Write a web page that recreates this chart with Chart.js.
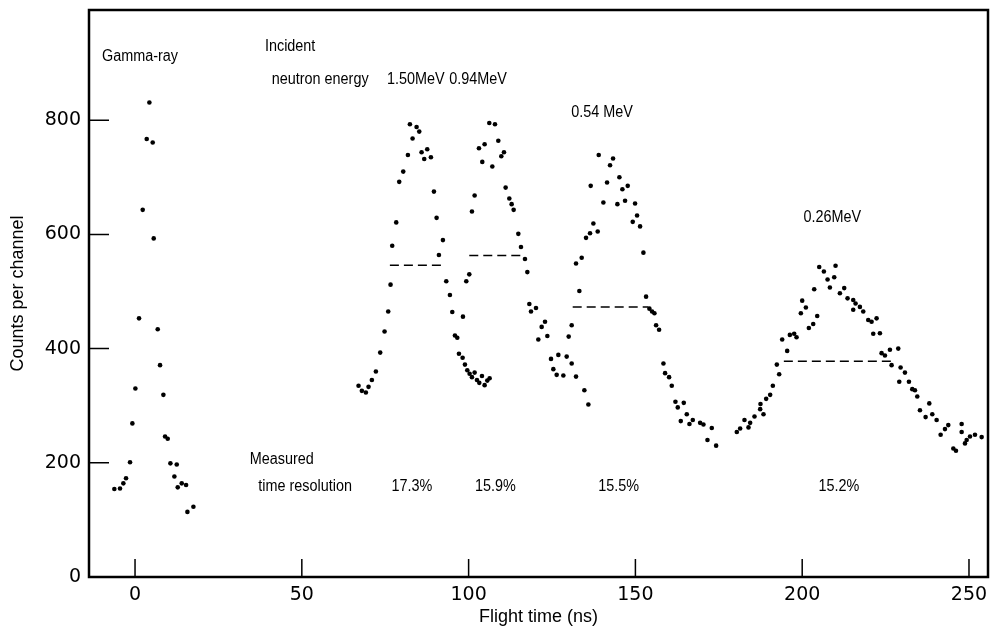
<!DOCTYPE html>
<html>
<head>
<meta charset="utf-8">
<script src="https://cdn.jsdelivr.net/npm/chart.js@4/dist/chart.umd.min.js"></script>
<style>
  body { margin: 0; background: #fff; }
  canvas { display: block; }
</style>
</head>
<body>
<canvas id="mycanvas" width="993" height="634"></canvas>
<script>
// tick labels
var xTicks = [0, 50, 100, 150, 200, 250];
var yTicks = [0, 200, 400, 600, 800];

// gamma-ray peak
var gammaTime = [-6.2, -4.5, -3.5, -2.7, -1.5, -0.8, 0.1, 1.2, 2.3, 3.5, 4.3, 5.3, 5.6, 6.8, 7.5, 8.5, 9.0, 9.8, 10.6, 11.8, 12.5, 12.8, 14.0, 15.3, 15.7, 17.5];
var gammaCounts = [154, 155, 164, 173, 201, 269, 330, 453, 643, 767, 831, 761, 593, 434, 371, 319, 246, 242, 199, 176, 197, 157, 164, 161, 114, 123];

// 1.50 MeV
var n150Time = [67.0, 68.0, 69.2, 70.0, 71.0, 72.2, 73.5, 74.8, 75.9, 76.6, 77.1, 78.3, 79.2, 80.4, 81.8, 82.4, 83.2, 84.4, 85.2, 85.9, 86.7, 87.6, 88.7, 89.6, 90.4, 91.1, 92.3, 93.3, 94.4, 95.1, 95.9, 96.6, 97.1, 98.2, 98.9, 99.6, 100.3, 101.0, 101.8, 102.5, 103.2, 104.0, 104.8, 105.6, 106.3];
var n150Counts = [335, 326, 323, 333, 345, 360, 393, 430, 465, 512, 580, 621, 692, 710, 739, 793, 768, 788, 780, 744, 732, 749, 735, 675, 629, 564, 590, 518, 494, 464, 423, 419, 391, 384, 372, 362, 356, 350, 358, 345, 340, 352, 336, 344, 348];

// 0.94 MeV
var n094Time = [98.3, 99.3, 100.2, 101.0, 101.8, 103.1, 104.1, 104.8, 106.2, 107.1, 107.9, 108.9, 109.8, 110.6, 111.1, 112.2, 112.9, 113.5, 114.9, 115.7, 116.9, 117.6, 118.2, 118.7, 120.2, 120.9, 121.9, 122.9, 123.6, 124.7, 125.4, 126.4, 126.9, 128.4, 129.4, 130.9, 132.2, 134.7, 135.9];
var n094Counts = [456, 518, 530, 640, 668, 751, 727, 758, 795, 719, 793, 764, 737, 744, 682, 663, 653, 643, 601, 578, 557, 534, 478, 465, 471, 416, 438, 447, 422, 382, 364, 354, 389, 353, 386, 374, 351, 327, 302];

// 0.54 MeV
var n054Time = [130.0, 130.9, 132.2, 133.2, 133.9, 135.2, 136.4, 136.6, 137.4, 138.7, 139.0, 140.4, 141.5, 142.4, 143.3, 144.6, 145.2, 146.1, 146.9, 147.7, 149.2, 149.9, 150.5, 151.4, 152.4, 153.2, 154.2, 155.0, 155.7, 156.2, 157.1, 158.4, 158.9, 160.1, 160.9, 162.0, 162.7, 163.6, 164.5, 165.4, 166.2, 167.2, 169.4, 170.4, 171.6, 172.9, 174.2];
var n054Counts = [421, 441, 549, 501, 559, 594, 602, 685, 619, 605, 739, 656, 691, 721, 733, 653, 700, 679, 659, 685, 622, 654, 633, 614, 568, 491, 470, 465, 462, 441, 433, 374, 357, 350, 335, 307, 297, 273, 305, 285, 268, 275, 270, 267, 240, 261, 230];

// 0.26 MeV
var n026Time = [180.4, 181.4, 182.7, 183.9, 184.4, 185.7, 187.4, 187.5, 188.4, 189.2, 190.4, 191.2, 192.4, 193.1, 194.0, 195.5, 196.3, 197.6, 198.3, 199.6, 200.0, 201.1, 202.0, 203.3, 203.6, 204.5, 205.1, 206.5, 207.6, 208.3, 209.6, 210.0, 211.3, 212.6, 213.6, 215.3, 216.0, 215.3, 217.3, 218.3, 219.8, 220.8, 221.3, 222.3, 223.3, 223.8, 224.8, 226.3, 226.8, 228.8, 229.1, 229.5, 230.8, 232.0, 233.0, 233.8, 234.5, 235.3, 237.0, 238.1, 239.0, 240.3, 241.5, 242.8, 243.8, 245.3, 246.1, 247.8, 247.8, 248.8, 249.3, 250.3, 251.8, 253.8];
var n026Counts = [254, 260, 275, 262, 270, 281, 294, 303, 285, 312, 319, 335, 372, 355, 416, 396, 424, 426, 420, 462, 484, 472, 436, 443, 504, 457, 543, 535, 521, 507, 525, 545, 497, 506, 488, 485, 479, 468, 473, 465, 450, 447, 426, 453, 427, 392, 388, 398, 371, 400, 342, 367, 358, 342, 329, 327, 316, 292, 280, 304, 285, 275, 249, 259, 266, 225, 221, 268, 254, 234, 240, 246, 249, 245];

// half-maximum lines: [start, end, level]
var halfMax = [
  [76.4, 92.4, 546],
  [100.2, 116.2, 563],
  [131.2, 153.9, 473],
  [194.5, 226.8, 378]
];

// texts on the plot: [time, counts, text]
var labels = [
  [1.5, 911, 'Gamma-ray'],
  [46.5, 929, 'Incident'],
  [55.5, 871, 'neutron energy'],
  [84.2, 871, '1.50MeV'],
  [102.8, 871, '0.94MeV'],
  [140, 813, '0.54 MeV'],
  [209, 629, '0.26MeV'],
  [44, 205, 'Measured'],
  [51, 159, 'time resolution'],
  [83, 159, '17.3%'],
  [108, 159, '15.9%'],
  [145, 159, '15.5%'],
  [211, 159, '15.2%']
];

function pts(xs, ys) {
  var out = [];
  for (var i in xs) out.push({x: xs[i], y: ys[i]});
  return out;
}

var dotStyle = {
  showLine: false,
  pointRadius: 2.3,
  pointBackgroundColor: '#000',
  pointBorderWidth: 0,
  pointBorderColor: '#000'
};

var datasets = [
  Object.assign({label: 'Gamma-ray', data: pts(gammaTime, gammaCounts)}, dotStyle),
  Object.assign({label: '1.50MeV', data: pts(n150Time, n150Counts)}, dotStyle),
  Object.assign({label: '0.94MeV', data: pts(n094Time, n094Counts)}, dotStyle),
  Object.assign({label: '0.54MeV', data: pts(n054Time, n054Counts)}, dotStyle),
  Object.assign({label: '0.26MeV', data: pts(n026Time, n026Counts)}, dotStyle)
];

halfMax.forEach(function(h) {
  datasets.push({
    label: 'FWHM',
    data: [{x: h[0], y: h[2]}, {x: h[1], y: h[2]}],
    showLine: true,
    borderColor: '#000',
    borderWidth: 1.5,
    borderDash: [9, 5],
    pointRadius: 0
  });
});

var FONT = "'Liberation Sans', 'DejaVu Sans', sans-serif";
var TICKFONT = "'DejaVu Sans', sans-serif";

var framePlugin = {
  id: 'frame',
  afterDatasetsDraw: function(chart) {
    var ctx = chart.ctx;
    var a = chart.chartArea;
    var xs = chart.scales.x, ys = chart.scales.y;
    ctx.save();
    ctx.strokeStyle = '#000';
    ctx.lineWidth = 2.5;
    ctx.strokeRect(a.left, a.top, a.right - a.left, a.bottom - a.top);
    ctx.lineWidth = 1.5;
    ctx.beginPath();
    xTicks.forEach(function(v) {
      var px = xs.getPixelForValue(v);
      ctx.moveTo(px, a.bottom);
      ctx.lineTo(px, a.bottom - 18);
    });
    yTicks.forEach(function(v) {
      var py = ys.getPixelForValue(v);
      ctx.moveTo(a.left, py);
      ctx.lineTo(a.left + 20, py);
    });
    ctx.stroke();

    // lettering is a bit narrower than the stock font
    ctx.fillStyle = '#000';
    ctx.font = '16px ' + FONT;
    ctx.textAlign = 'center';
    ctx.textBaseline = 'middle';
    labels.forEach(function(l) {
      var px = xs.getPixelForValue(l[0]);
      var py = ys.getPixelForValue(l[1]);
      ctx.save();
      ctx.translate(px, py);
      ctx.scale(0.9, 1);
      ctx.fillText(l[2], 0, 0);
      ctx.restore();
    });
    ctx.restore();
  }
};

var ctx = document.getElementById('mycanvas');

var chart = new Chart(ctx, {
  type: 'scatter',
  data: {datasets: datasets},
  plugins: [framePlugin],
  options: {
    responsive: false,
    animation: false,
    layout: {padding: {top: 10, right: 5, left: 0, bottom: 0}},
    plugins: {
      legend: {display: false},
      tooltip: {enabled: false}
    },
    scales: {
      x: {
        type: 'linear',
        min: -13.8,
        max: 255.7,
        afterBuildTicks: function(scale) {
          scale.ticks = xTicks.map(function(v) { return {value: v}; });
        },
        afterFit: function(scale) {
          scale.height = 57;
          scale.paddingLeft = 0;
          scale.paddingRight = 0;
        },
        grid: {display: false, drawTicks: false},
        border: {display: false},
        ticks: {color: '#000', padding: 7, font: {family: TICKFONT, size: 19}},
        title: {
          display: true,
          text: 'Flight time (ns)',
          color: '#000',
          font: {family: FONT, size: 18},
          padding: {top: 0, bottom: 6}
        }
      },
      y: {
        min: 0,
        max: 993,
        afterBuildTicks: function(scale) {
          scale.ticks = yTicks.map(function(v) { return {value: v}; });
        },
        afterFit: function(scale) {
          scale.width = 89;
          scale.paddingTop = 0;
          scale.paddingBottom = 0;
        },
        grid: {display: false, drawTicks: false},
        border: {display: false},
        ticks: {color: '#000', padding: 8, font: {family: TICKFONT, size: 19}},
        title: {
          display: true,
          text: 'Counts per channel',
          color: '#000',
          font: {family: FONT, size: 18},
          padding: {top: 7, bottom: 0}
        }
      }
    }
  }
});
</script>
</body>
</html>
